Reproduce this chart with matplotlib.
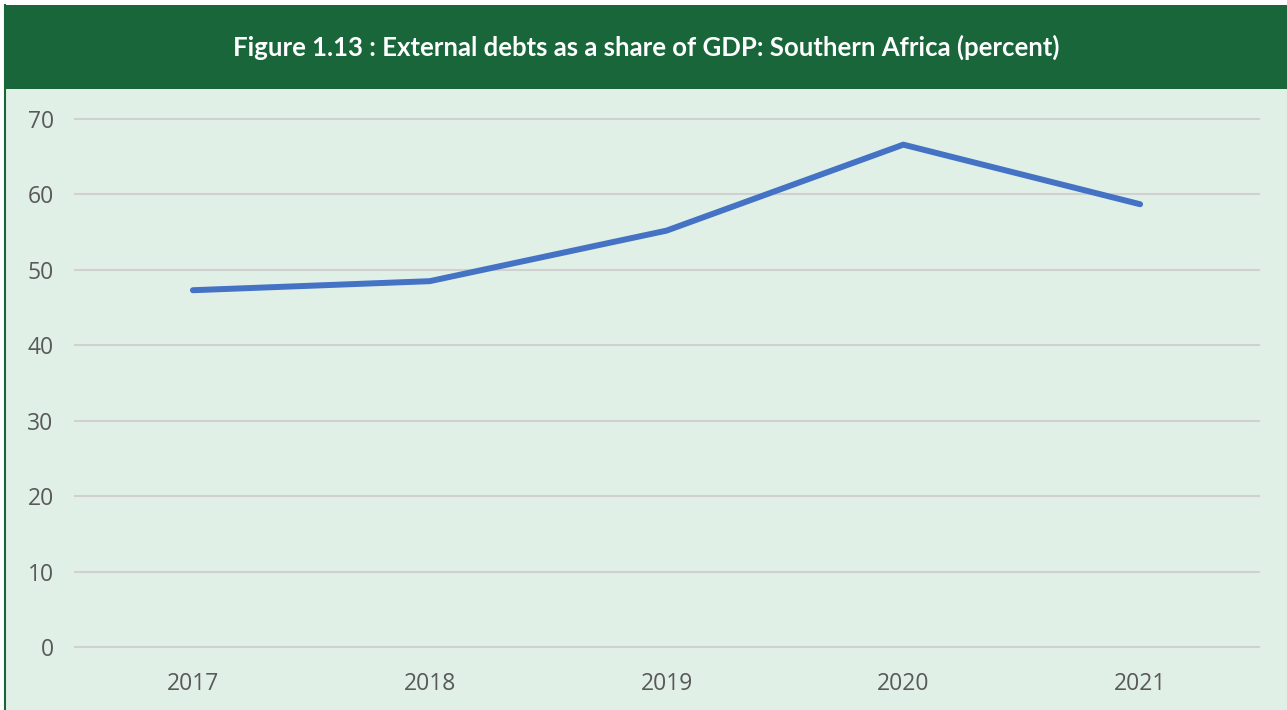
import matplotlib
matplotlib.use("Agg")
import matplotlib.pyplot as plt
from matplotlib.patches import Rectangle

years = ["2017", "2018", "2019", "2020", "2021"]
debt_share = [47.3, 48.5, 55.2, 66.6, 58.7]
yticks = [0, 10, 20, 30, 40, 50, 60, 70]

title = "Figure 1.13 : External debts as a share of GDP: Southern Africa (percent)"
dark_green = "#186639"
panel_bg = "#e1f0e6"

fig = plt.figure(figsize=(12.87, 7.10), dpi=100)
fig.patch.set_facecolor("white")

# panel background and green header band, kept behind the axes
fig.patches.append(Rectangle((0.003, 0), 0.997, 1 - 5 / 710, transform=fig.transFigure,
                             facecolor=panel_bg, edgecolor="none", zorder=-3))
fig.patches.append(Rectangle((0.003, 1 - 89 / 710), 0.997, 84 / 710, transform=fig.transFigure,
                             facecolor=dark_green, edgecolor="none", zorder=-2))
fig.add_artist(plt.Line2D([0.0035, 0.0035], [0, 1 - 5 / 710], transform=fig.transFigure,
                          color=dark_green, lw=1.5, zorder=-1))
fig.text(0.502, 1 - 47 / 710, title, ha="center", va="center", color="white",
         fontsize=18.5, fontweight="bold", family="Lato")

ax = fig.add_axes([74.5 / 1287, 1 - 647 / 710, 1184 / 1287, 528 / 710])
ax.set_facecolor("none")
x = list(range(len(years)))
ax.plot(x, debt_share, color="#4472c4", lw=4.3, solid_capstyle="round",
        solid_joinstyle="round", zorder=3)

ax.set_xlim(-0.5, len(years) - 0.5)
ax.set_ylim(0, 70)
ax.set_yticks(yticks)
ax.set_xticks(x)
ax.set_xticklabels(years)
ax.grid(axis="y", color="#d0d0d0", lw=1.5)
ax.set_axisbelow(True)
for g in ax.get_ygridlines():
    g.set_clip_on(False)
for s in ax.spines.values():
    s.set_visible(False)
ax.tick_params(length=0, labelsize=16.5, labelcolor="#595959")
ax.tick_params(axis="y", pad=15)
ax.tick_params(axis="x", pad=18)
for lab in ax.get_xticklabels() + ax.get_yticklabels():
    lab.set_family("Open Sans")

fig.savefig("out.png", dpi=100)
